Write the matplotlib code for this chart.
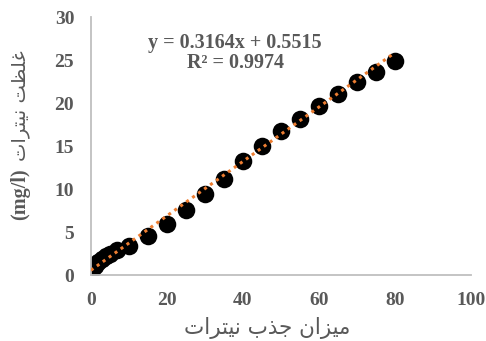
import matplotlib
matplotlib.use("Agg")
import matplotlib.pyplot as plt
import numpy as np

# data
x_vals = [0, 1, 2, 3, 4, 5, 7, 10, 15, 20, 25, 30, 35, 40, 45, 50, 55, 60, 65, 70, 75, 80]
y_vals = [0.4, 1.0, 1.5, 1.9, 2.2, 2.4, 2.9, 3.4, 4.5, 5.9, 7.6, 9.4, 11.2, 13.3, 15.0, 16.7, 18.1, 19.7, 21.0, 22.4, 23.6, 24.9]
slope = 0.3164
intercept = 0.5515
x_ticks = [0, 20, 40, 60, 80, 100]
y_ticks = [0, 5, 10, 15, 20, 25, 30]
eq_text = "y = 0.3164x + 0.5515\nR² = 0.9974"
# Persian labels in visual order with presentation forms
x_label = "\uFE95\uFE8D\uFEAE\uFE98\uFBFF\uFEE7 \uFE8F\uFEAC\uFE9F \uFEE5\uFE8D\uFEB0\uFBFF\uFEE3"
y_label_fa = "\uFE95\uFE8D\uFEAE\uFE98\uFBFF\uFEE7 \uFE96\uFEC8\uFEE0\uFECF"
y_label_unit = "(mg/l)"

gray = "#595959"
fig = plt.figure(figsize=(4.86, 3.41), dpi=100)
ax = fig.add_axes([0.187, 0.1935, 0.782, 0.7565])

ax.scatter(x_vals, y_vals, s=160, color="black", zorder=2, linewidths=0)
xl = np.array([min(x_vals), max(x_vals)])
ax.plot(xl, slope * xl + intercept, color="#ED7D31", linestyle=(0, (1.0, 1.4)),
        linewidth=2.2, dash_capstyle="butt", zorder=3)

ax.set_xlim(0, 100)
ax.set_ylim(0, 30)
ax.set_xticks(x_ticks)
ax.set_yticks(y_ticks)
for s in ["top", "right"]:
    ax.spines[s].set_visible(False)
for s in ["left", "bottom"]:
    ax.spines[s].set_color("#BFBFBF")
    ax.spines[s].set_linewidth(1.3)
ax.tick_params(length=0, labelsize=14, labelcolor=gray)
ax.tick_params(axis="x", pad=12)
ax.tick_params(axis="y", pad=12)
for lab in ax.get_xticklabels() + ax.get_yticklabels():
    lab.set_fontfamily("Liberation Serif")
    lab.set_fontweight("bold")

fig.text(235 / 486, 1 - 53 / 341, eq_text, ha="center", va="center",
         fontsize=14.5, fontweight="bold", family="Liberation Serif",
         color=gray, linespacing=1.0)

fig.text(267 / 486, 1 - 328 / 341, x_label, ha="center", va="center",
         fontsize=15.5, family="DejaVu Sans", color=gray)
fig.text(20 / 486, 1 - 194 / 341, y_label_unit, ha="center", va="center",
         rotation=90, fontsize=14.5, fontweight="bold", family="Liberation Serif", color=gray)
fig.text(21 / 486, 1 - 106 / 341, y_label_fa, ha="center", va="center",
         rotation=90, fontsize=14, family="DejaVu Sans", color=gray)

fig.savefig("out.png", dpi=100)
